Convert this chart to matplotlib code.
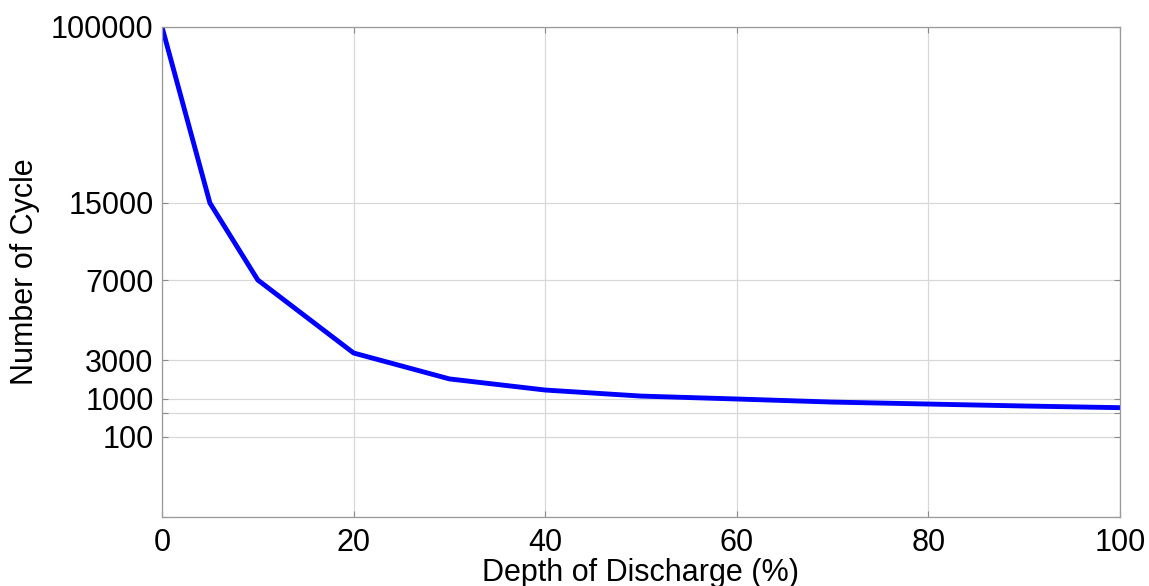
import numpy as np
import matplotlib
matplotlib.use('Agg')
import matplotlib.pyplot as plt

# depth of discharge (%) vs. cycle life
dod = [0, 5, 10, 20, 30, 40, 50, 60, 70, 80, 90, 100]
cycles = [100000, 15000, 7000, 3350, 2030, 1460, 1150, 1000, 890, 820, 750, 690]

ytick_vals = [0, 100, 500, 1000, 3000, 7000, 15000, 100000]
ytick_labels = ['', '100', '', '1000', '3000', '7000', '15000', '100000']
xtick_vals = [0, 20, 40, 60, 80, 100]

# uneven y axis: each tick value gets its own height on the axis
tick_height = np.array([0, 80, 104, 118, 157, 237, 314, 490]) / 490.0

def fwd(v):
    return np.interp(v, ytick_vals, tick_height)

def inv(p):
    return np.interp(p, tick_height, ytick_vals)

plt.rcParams['font.family'] = ['Liberation Sans', 'DejaVu Sans']

fig = plt.figure(figsize=(11.49, 5.86), dpi=100)
ax = fig.add_axes([162/1149., 69/586., 958/1149., 490/586.])
ax.set_yscale('function', functions=(fwd, inv))

ax.plot(dod, cycles, color='#0000ff', lw=3.5, solid_joinstyle='round')

ax.set_xlim(0, 100)
ax.set_ylim(0, 100000)
ax.set_xticks(xtick_vals)
ax.set_yticks(ytick_vals)
ax.set_yticklabels(ytick_labels)
ax.minorticks_off()

ax.grid(True, color='#d8d8d8', lw=0.9)
for s in ax.spines.values():
    s.set_color('#9a9a9a')
    s.set_linewidth(0.9)
ax.tick_params(direction='in', length=4, color='#8a8a8a', width=0.8,
               top=True, right=True, labelsize=22)
ax.tick_params(axis='x', pad=8)
ax.tick_params(axis='y', pad=6)

ax.set_xlabel('Depth of Discharge (%)', fontsize=22, labelpad=0)
ax.set_ylabel('Number of Cycle', fontsize=22, labelpad=8)

fig.savefig('out.png', dpi=100)
